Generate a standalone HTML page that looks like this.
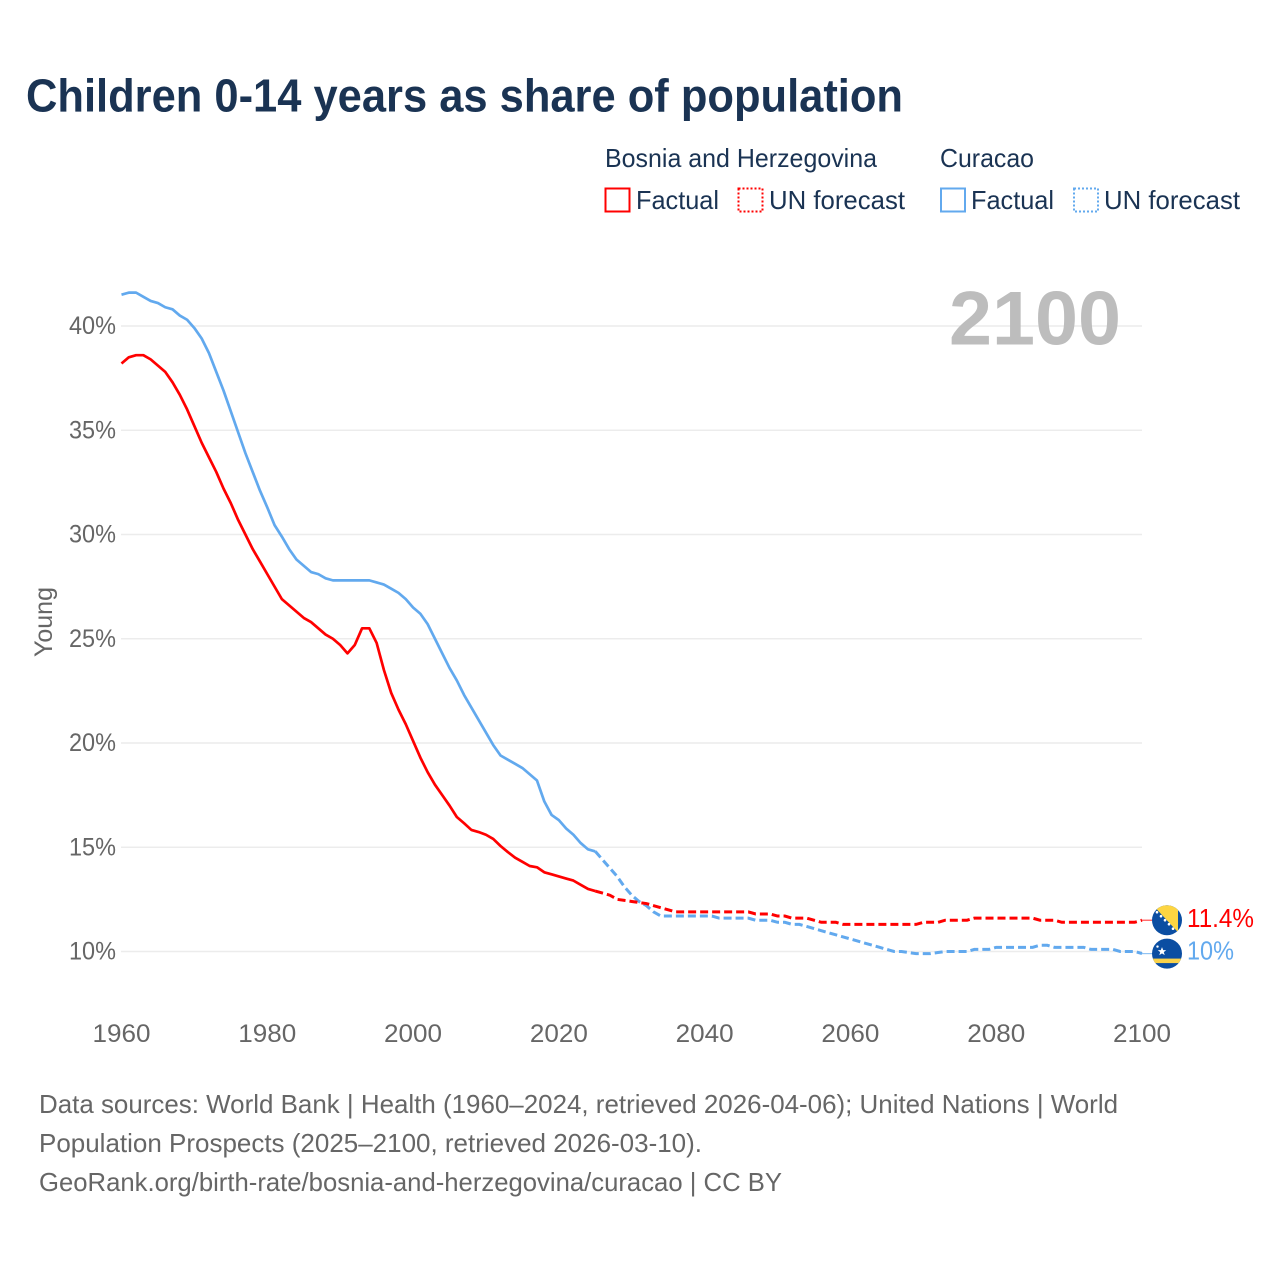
<!DOCTYPE html>
<html lang="en">
<head>
<meta charset="utf-8">
<title>Children 0-14 years as share of population</title>
<style>
html,body{margin:0;padding:0;background:#fff;width:1280px;height:1280px;overflow:hidden}
svg{display:block;font-family:"Liberation Sans",Arial,sans-serif}
</style>
</head>
<body>
<svg id="chart" width="1280" height="1280" viewBox="0 0 1280 1280" xmlns="http://www.w3.org/2000/svg">
  <defs>
    <clipPath id="clip-flag-ba"><circle cx="0" cy="0" r="15"/></clipPath>
    <clipPath id="clip-flag-cw"><circle cx="0" cy="0" r="15"/></clipPath>
  </defs>

  <text x="26" y="111.500" font-size="46" font-weight="700" fill="#1a3353" textLength="877" lengthAdjust="spacingAndGlyphs">Children 0-14 years as share of population</text>

  <g>
    <text x="605" y="167" font-size="26" fill="#1a3353" textLength="272" lengthAdjust="spacingAndGlyphs">Bosnia and Herzegovina</text>
    <rect x="605.500" y="188.500" width="24" height="23" fill="none" stroke="#ff0000" stroke-width="2"/>
    <text x="636" y="209" font-size="26" fill="#1a3353" textLength="83" lengthAdjust="spacingAndGlyphs">Factual</text>
    <rect x="738.500" y="188.500" width="24" height="23" fill="none" stroke="#ff0000" stroke-width="2" stroke-dasharray="2 2"/>
    <text x="769" y="209" font-size="26" fill="#1a3353" textLength="136" lengthAdjust="spacingAndGlyphs">UN forecast</text>

    <text x="940" y="167" font-size="26" fill="#1a3353" textLength="94" lengthAdjust="spacingAndGlyphs">Curacao</text>
    <rect x="941" y="188.500" width="24" height="23" fill="none" stroke="#62a9ee" stroke-width="2"/>
    <text x="971" y="209" font-size="26" fill="#1a3353" textLength="83" lengthAdjust="spacingAndGlyphs">Factual</text>
    <rect x="1074" y="188.500" width="24" height="23" fill="none" stroke="#62a9ee" stroke-width="2" stroke-dasharray="2 2"/>
    <text x="1104" y="209" font-size="26" fill="#1a3353" textLength="136" lengthAdjust="spacingAndGlyphs">UN forecast</text>
  </g>

  <g id="grid"></g>
  <g id="y-ticks"></g>
  <g id="x-ticks"></g>

  <text x="0" y="0" transform="translate(52 622) rotate(-90)" text-anchor="middle" font-size="25" fill="#666666" textLength="70" lengthAdjust="spacingAndGlyphs">Young</text>

  <text x="949" y="344.500" font-size="76" font-weight="700" fill="#bdbdbd" textLength="172" lengthAdjust="spacingAndGlyphs">2100</text>

  <g id="series"></g>
  <g id="ends"></g>

  <g font-size="26" fill="#666666">
    <text x="39" y="1113" textLength="1079" lengthAdjust="spacingAndGlyphs">Data sources: World Bank | Health (1960–2024, retrieved 2026-04-06); United Nations | World</text>
    <text x="39" y="1152" textLength="663" lengthAdjust="spacingAndGlyphs">Population Prospects (2025–2100, retrieved 2026-03-10).</text>
    <text x="39" y="1191" textLength="743" lengthAdjust="spacingAndGlyphs">GeoRank.org/birth-rate/bosnia-and-herzegovina/curacao | CC BY</text>
  </g>
</svg>

<script>
const factualStartYear = 1960;
const forecastStartYear = 2025;
const yTickValues = [10, 15, 20, 25, 30, 35, 40];
const yTickLabels = ["10%", "15%", "20%", "25%", "30%", "35%", "40%"];
const xTickYears = [1960, 1980, 2000, 2020, 2040, 2060, 2080, 2100];

const bosniaFactual = [
  38.2,38.5,38.6,38.6,38.4,38.1,37.8,37.3,36.7,36.0,
  35.2,34.4,33.7,33.0,32.2,31.5,30.7,30.0,29.3,28.7,
  28.1,27.5,26.9,26.6,26.3,26.0,25.8,25.5,25.2,25.0,
  24.7,24.3,24.7,25.5,25.5,24.8,23.5,22.4,21.6,20.9,
  20.1,19.3,18.6,18.0,17.5,17.0,16.45,16.15,15.83,15.73,
  15.6,15.4,15.06,14.77,14.5,14.3,14.1,14.04,13.8,13.7,
  13.6,13.5,13.4,13.2,13.0,12.9
];
const bosniaForecast = [
  12.9,12.8,12.7,12.5,12.45,
  12.4,12.35,12.3,12.2,12.1,12.0,11.9,11.9,11.9,11.9,
  11.9,11.9,11.9,11.9,11.9,11.9,11.9,11.8,11.8,11.8,
  11.7,11.7,11.6,11.6,11.6,11.5,11.4,11.4,11.4,11.3,
  11.3,11.3,11.3,11.3,11.3,11.3,11.3,11.3,11.3,11.3,
  11.4,11.4,11.4,11.5,11.5,11.5,11.5,11.6,11.6,11.6,
  11.6,11.6,11.6,11.6,11.6,11.6,11.5,11.5,11.5,11.4,
  11.4,11.4,11.4,11.4,11.4,11.4,11.4,11.4,11.4,11.4,
  11.5
];
const curacaoFactual = [
  41.5,41.6,41.6,41.4,41.2,41.1,40.9,40.8,40.5,40.3,
  39.9,39.4,38.7,37.8,36.9,35.9,34.9,33.9,33.0,32.1,
  31.3,30.45,29.9,29.3,28.8,28.5,28.2,28.1,27.9,27.8,
  27.8,27.8,27.8,27.8,27.8,27.7,27.6,27.4,27.2,26.9,
  26.5,26.2,25.7,25.0,24.3,23.6,23.0,22.3,21.7,21.1,
  20.5,19.9,19.4,19.2,19.0,18.8,18.5,18.2,17.2,16.55,
  16.3,15.9,15.6,15.2,14.9,14.8
];
const curacaoForecast = [
  14.8,14.4,14.0,13.6,13.1,
  12.7,12.4,12.2,11.9,11.7,11.7,11.7,11.7,11.7,11.7,
  11.7,11.7,11.6,11.6,11.6,11.6,11.6,11.5,11.5,11.5,
  11.4,11.4,11.3,11.3,11.2,11.1,11.0,10.9,10.8,10.7,
  10.6,10.5,10.4,10.3,10.2,10.1,10.0,10.0,9.95,9.9,
  9.9,9.9,9.95,10,10,10,10,10.1,10.1,10.1,
  10.2,10.2,10.2,10.2,10.2,10.2,10.3,10.3,10.2,10.2,
  10.2,10.2,10.2,10.1,10.1,10.1,10.1,10.0,10.0,10.0,
  9.9
];
const bosniaEndLabel = "11.4%";
const curacaoEndLabel = "10%";

const NS = "http://www.w3.org/2000/svg";
const RED = "#ff0000";
const BLUE = "#62a9ee";

function xScale(year) { return 121.5 + (year - 1960) * (1142 - 121.5) / 140; }
function yScale(value) { return 951.5 - (value - 10) * (951.5 - 326) / 30; }

function make(tag, attrs, parent) {
  const el = document.createElementNS(NS, tag);
  for (const k in attrs) el.setAttribute(k, attrs[k]);
  parent.appendChild(el);
  return el;
}

function linePath(values, startYear) {
  return values.map(function (v, i) {
    return (i ? "L" : "M") + xScale(startYear + i).toFixed(2) + " " + yScale(v).toFixed(2);
  }).join("");
}

const gridG = document.getElementById("grid");
const yG = document.getElementById("y-ticks");
yTickValues.forEach(function (v, i) {
  const line = make("line", {x1: 121, x2: 1142, y1: yScale(v), y2: yScale(v), stroke: "#ececec", "stroke-width": 1.5}, gridG);
  
  
  const t = make("text", {x: 69, y: yScale(v) + 8, "font-size": 25, fill: "#666666", textLength: 47, lengthAdjust: "spacingAndGlyphs"}, yG);
  
  
  t.textContent = yTickLabels[i];
});

const xG = document.getElementById("x-ticks");
xTickYears.forEach(function (year) {
  const t = make("text", {x: xScale(year), y: 1042, "text-anchor": "middle", "font-size": 25, fill: "#666666", textLength: 58, lengthAdjust: "spacingAndGlyphs"}, xG);
  
  
  t.textContent = String(year);
});

const seriesG = document.getElementById("series");
const lineBlueFactual = make("path", {d: linePath(curacaoFactual, factualStartYear), fill: "none", stroke: BLUE, "stroke-width": 2.7, "stroke-linejoin": "round"}, seriesG);


const lineBlueForecast = make("path", {d: linePath(curacaoForecast, forecastStartYear), fill: "none", stroke: BLUE, "stroke-width": 3, "stroke-dasharray": "8 4"}, seriesG);


const lineRedFactual = make("path", {d: linePath(bosniaFactual, factualStartYear), fill: "none", stroke: RED, "stroke-width": 2.7, "stroke-linejoin": "round"}, seriesG);


const lineRedForecast = make("path", {d: linePath(bosniaForecast, forecastStartYear), fill: "none", stroke: RED, "stroke-width": 3, "stroke-dasharray": "8 4"}, seriesG);



const endsG = document.getElementById("ends");
const redEndY = yScale(bosniaForecast[bosniaForecast.length - 1]);
const blueEndY = yScale(curacaoForecast[curacaoForecast.length - 1]);
const endX = xScale(2100);

const connRed = make("line", {x1: endX, x2: 1153, y1: redEndY, y2: redEndY, stroke: RED, "stroke-width": 1.2, "stroke-opacity": 0.7}, endsG);


const connBlue = make("line", {x1: endX, x2: 1153, y1: blueEndY, y2: blueEndY, stroke: BLUE, "stroke-width": 1.2, "stroke-opacity": 0.7}, endsG);



/* Bosnia flag */
const flagBa = make("g", {transform: "translate(1167 " + redEndY + ")", "clip-path": "url(#clip-flag-ba)"}, endsG);


make("rect", {x: -16, y: -16, width: 32, height: 32, fill: "#0b4ea2"}, flagBa);
make("polygon", {points: "-14,-15 11,-15 11,12", fill: "#fdd542"}, flagBa);
[[-10,-8],[-6,-4],[-2,0],[2,4],[6,8.500]].forEach(function (p) {
  make("circle", {cx: p[0], cy: p[1], r: 1.3, fill: "#ffffff"}, flagBa);
});

/* Curacao flag */
const flagCw = make("g", {transform: "translate(1167 " + blueEndY + ")", "clip-path": "url(#clip-flag-cw)"}, endsG);


make("rect", {x: -16, y: -16, width: 32, height: 32, fill: "#0b4ea2"}, flagCw);
make("rect", {x: -16, y: 5, width: 32, height: 4.5, fill: "#f9d24a"}, flagCw);
make("polygon", {points: "-5,-6.5 -3.8,-3.400 -0.800,-3.400 -3.200,-1.400 -2.300,1.500 -5,-0.200 -7.700,1.500 -6.800,-1.400 -9.200,-3.400 -6.200,-3.400", fill: "#ffffff"}, flagCw);
make("circle", {cx: -9.500, cy: -7, r: 1.2, fill: "#ffffff"}, flagCw);

const labelRed = make("text", {x: 1187, y: redEndY + 7, "font-size": 26, fill: RED, textLength: 67, lengthAdjust: "spacingAndGlyphs"}, endsG);


labelRed.textContent = bosniaEndLabel;
const labelBlue = make("text", {x: 1187, y: blueEndY + 6, "font-size": 26, fill: BLUE, textLength: 47, lengthAdjust: "spacingAndGlyphs"}, endsG);


labelBlue.textContent = curacaoEndLabel;
</script>
</body>
</html>
